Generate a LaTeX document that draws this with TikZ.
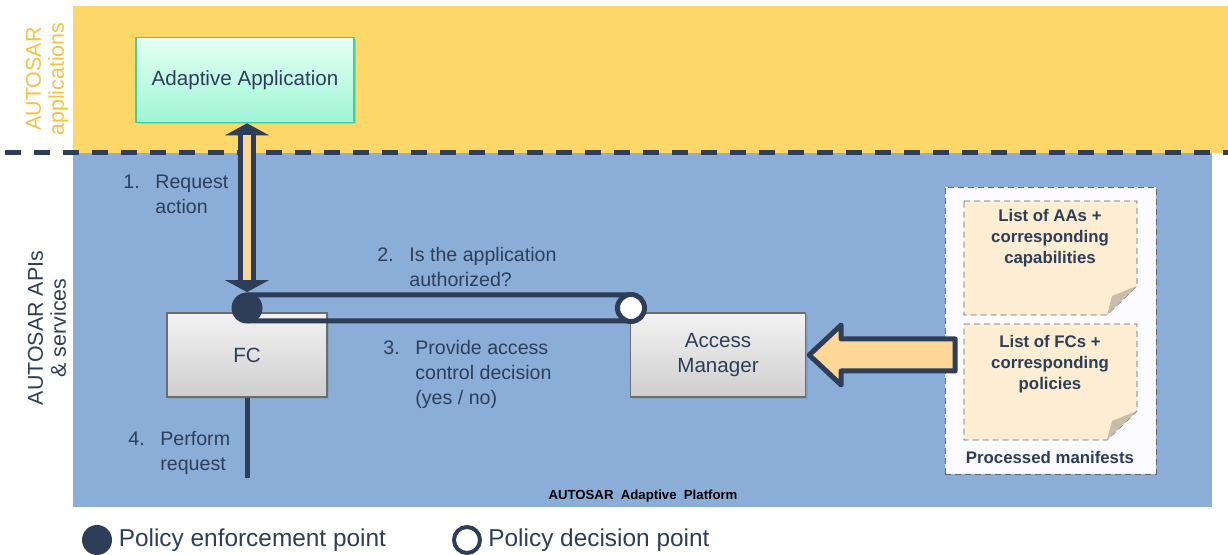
\documentclass[tikz,border=0pt]{standalone}
\usepackage{fontspec}
\setmainfont{Liberation Sans}
\usetikzlibrary{arrows.meta,positioning,calc,shadows}

\definecolor{bandyellow}{HTML}{FDD767}
\definecolor{bandblue}{HTML}{8BAED8}
\definecolor{navy}{HTML}{2E3E58}
\definecolor{sideyellow}{HTML}{F6C242}
\definecolor{mintborder}{HTML}{3ED0A2}
\definecolor{minttop}{HTML}{E6FFF5}
\definecolor{mintbottom}{HTML}{9FF5D7}
\definecolor{arrowfill}{HTML}{FCD798}
\definecolor{notefill}{HTML}{FDEDD3}
\definecolor{foldfill}{HTML}{C9BCA8}

\def\H{6.5pt}
\newcommand{\stepitem}[2]{\begin{tabular}{@{}p{16pt}@{}l@{}}#1 & #2\end{tabular}}

\tikzset{
  sidelabel/.style={rotate=90, align=center, text=navy, font=\fontsize{10.7}{11.5}\selectfont},
  aabox/.style={draw=mintborder, line width=0.8pt, top color=minttop, bottom color=mintbottom,
    minimum width=109pt, minimum height=42.5pt, inner sep=0pt, font=\fontsize{10.3}{12}\selectfont,
    drop shadow={shadow xshift=1pt, shadow yshift=-1pt, opacity=0.25}},
  greybox/.style={draw=gray!85!black, line width=0.7pt, top color=gray!10, bottom color=gray!38,
    minimum height=42pt, inner sep=0pt, align=center, font=\fontsize{10.3}{12.5}\selectfont,
    drop shadow={shadow xshift=1.2pt, shadow yshift=-1.2pt, opacity=0.3}},
  pipe/.style={navy, line width=2.5pt},
  pepdot/.style={circle, fill=navy, minimum size=15.5pt, inner sep=0pt},
  pdpdot/.style={circle, draw=navy, line width=2.5pt, fill=white, minimum size=13.5pt, inner sep=0pt},
  steplabel/.style={anchor=north west, inner sep=0pt, text=navy, font=\fontsize{9.8}{12.5}\selectfont},
  note/.style={draw=navy!80, densely dashed, line width=0.4pt, fill=notefill},
  notetext/.style={align=center, inner sep=0pt, text=navy, font=\bfseries\fontsize{8.4}{10.5}\selectfont},
  keytext/.style={right=3pt of #1, inner sep=0pt, text=navy, font=\fontsize{12.2}{14}\selectfont}
}

\begin{document}
\begin{tikzpicture}[x=0.5pt, y=-0.5pt]
\useasboundingbox (0,0) rectangle (1228,555);

\fill[bandyellow] (73,6) rectangle (1228,153);
\fill[bandblue] (73,153) rectangle (1212,507);
\draw[navy, line width=2.5pt, dash pattern=on 8pt off 6.5pt] (5,153) -- (1228,153);

\node[sidelabel, text=sideyellow] (applabel) at (47,79) {AUTOSAR\\applications};
\node[sidelabel] (apilabel) at (47,328) {AUTOSAR APIs\\\& services};

\node[aabox, text=navy] (aa) at (245,80) {Adaptive Application};
\node[greybox, minimum width=80pt, text=navy] (fc) at (247,355) {FC};
\node[greybox, minimum width=87.5pt, text=navy] (am) at (718,355) {Access\\Manager};

\coordinate (pepc) at (247,308);
\coordinate (pdpc) at (631,308);
\coordinate (fcend) at (247,478);
\draw[pipe] ([yshift=\H]pepc) -- ([yshift=\H]pdpc) arc[start angle=90, end angle=-90, radius=\H] -- ([yshift=-\H]pepc);
\node[pepdot] (pep) at (pepc) {};
\node[pdpdot] (pdp) at (pdpc) {};

\draw[navy, line width=9pt, {Triangle[width=22pt, length=6pt, line width=0pt]}-{Triangle[width=22pt, length=6pt, line width=0pt]}] (aa.south -| pep.north) -- (pep.north);
\draw[arrowfill, line width=4pt, shorten <=6pt, shorten >=6pt] (aa.south -| pep.north) -- (pep.north);
\draw[pipe] (fc.south) -- (fcend);

\node[draw=gray!80!black, densely dashed, line width=0.4pt, fill=gray!5!blue!2, minimum width=105.5pt, minimum height=143.5pt] (mf) at (1050.5,330.5) {};
\draw[note] (964,201) -- (1137,201) -- (1137,286) -- (1107,315) -- (964,315) -- cycle;
\fill[foldfill] (1137,286) -- (1107,315) -- (1112,296) -- cycle;
\draw[note] (964,324) -- (1137,324) -- (1137,411) -- (1107,440) -- (964,440) -- cycle;
\fill[foldfill] (1137,411) -- (1107,440) -- (1112,421) -- cycle;
\node[notetext] (aalist) at (1050,238) {List of AAs +\\corresponding\\capabilities};
\node[notetext] (fclist) at (1050,364) {List of FCs +\\corresponding\\policies};
\node[notetext] (mflabel) at (1050,457) {Processed manifests};

\coordinate (tip) at ([xshift=1.5pt]am.east);
\draw[navy, line width=2.5pt, line join=round, fill=arrowfill] (tip) -- ++(32,-30) -- ++(0,14) -- ++(114,0) -- ++(0,32) -- ++(-114,0) -- ++(0,14) -- cycle;

\node[steplabel] (lbl1) at (123,170.5) {\stepitem{1.}{Request\\ & action}};
\node[steplabel] (lbl2) at (377,243.5) {\stepitem{2.}{Is the application\\ & authorized?}};
\node[steplabel] (lbl3) at (383,336.5) {\stepitem{3.}{Provide access\\ & control decision\\ & (yes / no)}};
\node[steplabel] (lbl4) at (128,427.5) {\stepitem{4.}{Perform\\ & request}};

\node[text=black, font=\bfseries\fontsize{6.6}{8}\selectfont] (platform) at (643,496) {AUTOSAR\ \ Adaptive\ \ Platform};

\node[pepdot, minimum size=15pt] (pepkey) at (97,540) {};
\node[keytext=pepkey] (pepkeytext) {Policy enforcement point};
\node[pdpdot, line width=2pt, minimum size=13pt] (pdpkey) at (467,540) {};
\node[keytext=pdpkey] (pdpkeytext) {Policy decision point};
\end{tikzpicture}
\end{document}
